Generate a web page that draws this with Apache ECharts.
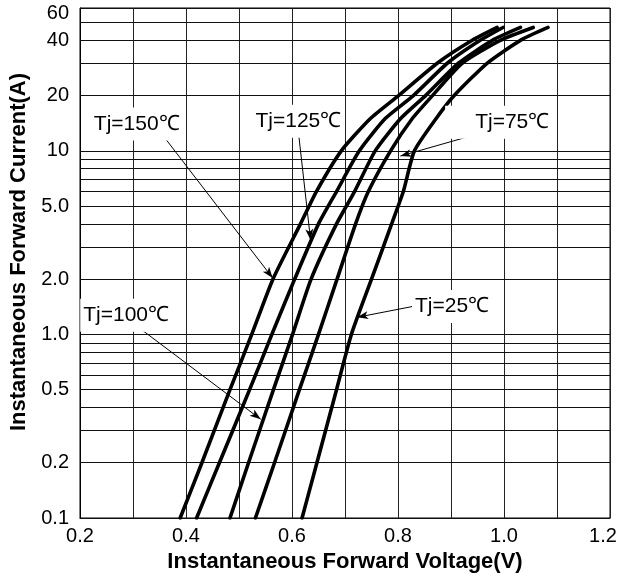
<!DOCTYPE html>
<html><head><meta charset="utf-8">
<script src="https://cdn.jsdelivr.net/npm/echarts@6/dist/echarts.min.js"></script>
<style>html,body{margin:0;padding:0;background:#fff}#c{width:620px;height:581px}</style>
</head><body><div id="c"></div>
<script>
// ---- data ----
const currents = [0.1, 0.2, 0.5, 1, 2, 4, 6, 10, 15, 20, 30, 40, 47];
const vTj150 = [0.389, 0.430, 0.483, 0.524, 0.564, 0.616, 0.646, 0.693, 0.748, 0.801, 0.874, 0.940, 0.987];
const vTj125 = [0.420, 0.463, 0.520, 0.562, 0.605, 0.650, 0.684, 0.727, 0.776, 0.829, 0.893, 0.955, 0.998];
const vTj100 = [0.483, 0.518, 0.565, 0.601, 0.636, 0.684, 0.718, 0.757, 0.805, 0.852, 0.914, 0.978, 1.031];
const vTj75  = [0.531, 0.567, 0.614, 0.650, 0.685, 0.720, 0.744, 0.786, 0.827, 0.865, 0.921, 0.993, 1.055];
const vTj25  = [0.619, 0.647, 0.684, 0.712, 0.750, 0.788, 0.810, 0.831, 0.872, 0.906, 0.968, 1.031, 1.083];
const seriesNames = ['Tj=150℃', 'Tj=125℃', 'Tj=100℃', 'Tj=75℃', 'Tj=25℃'];
const seriesVoltages = [vTj150, vTj125, vTj100, vTj75, vTj25];

const xMin = 0.2, xMax = 1.2, xStep = 0.1;
const yMin = 0.1, yMax = 60;
const yGridValues = [0.1, 0.2, 0.3, 0.4, 0.5, 0.6, 0.7, 0.8, 0.9, 1, 2, 3, 4, 5, 6, 7, 8, 9, 10, 20, 30, 40, 50, 60];
const yTickLabels = [0.1, 0.2, 0.5, 1, 2, 5, 10, 20, 40, 60];

// annotation labels (value coords) and their leader paths (last point = arrow tip)
const annoText = ['Tj=150℃', 'Tj=125℃', 'Tj=100℃', 'Tj=75℃', 'Tj=25℃'];
const annoTextAt = [[0.307, 14.0], [0.612, 14.5], [0.287, 1.27], [0.990, 14.3], [0.902, 1.42]];
const annoPaths = [
  [[0.337, 12.5], [0.353, 12.5], [0.5635, 2.03]],
  [[0.596, 12.7], [0.612, 12.7], [0.635, 3.27]],
  [[0.296, 1.10], [0.309, 1.10], [0.541, 0.345]],
  [[0.965, 12.7], [0.8045, 9.37]],
  [[0.833, 1.43], [0.723, 1.24]]
];

// ---- chart ----
const FONT = "'Liberation Sans', Arial, sans-serif";
const chart = echarts.init(document.getElementById('c'), null, {renderer: 'canvas'});

const fmtY = v => (v < 10 ? v.toFixed(1) : String(v));

const gridLineData = yGridValues.map(v => {
  const labeled = yTickLabels.indexOf(v) >= 0;
  const txt = fmtY(v);
  return {yAxis: v, label: {show: labeled, formatter: v === yMax ? '{t|' + txt + '}' : txt}};
});

const curveSeries = seriesNames.map((name, k) => ({
  name: name,
  type: 'line',
  data: currents.map((c, i) => [seriesVoltages[k][i], c]),
  smooth: 0.2,
  symbol: 'none',
  z: 3,
  lineStyle: {color: '#000', width: 3.6, cap: 'round', join: 'round'},
  silent: true
}));

const leaderData = [];
annoPaths.forEach(path => {
  for (let i = 0; i < path.length - 1; i++) {
    const last = i === path.length - 2;
    leaderData.push([
      {coord: path[i], symbol: 'none'},
      {coord: path[i + 1], symbol: last ? 'arrow' : 'none', symbolSize: last ? [6, 11] : 0}
    ]);
  }
});

const labelItems = annoText.map((t, i) => {
  const item = {name: t, value: annoTextAt[i]};
  if (i === 3) item.label = {padding: [6, 3, 6, 30]};
  return item;
});

const option = {
  animation: false,
  backgroundColor: '#fff',
  grid: {left: 79, right: 10, top: 8, bottom: 63, show: true, borderColor: '#000', borderWidth: 1, backgroundColor: 'transparent'},
  xAxis: {
    type: 'value', min: xMin, max: xMax, interval: xStep,
    name: 'Instantaneous Forward Voltage(V)', nameLocation: 'middle', nameGap: 31,
    nameTextStyle: {fontFamily: FONT, fontWeight: 'bold', fontSize: 22, color: '#000'},
    axisLine: {show: true, lineStyle: {color: '#000', width: 1}},
    axisTick: {show: false},
    splitLine: {show: true, lineStyle: {color: '#222', width: 1}},
    axisLabel: {
      margin: 8, fontFamily: FONT, fontSize: 20, color: '#000',
      formatter: v => {
        const k = Math.round(v * 10);
        if (k % 2 !== 0) return '';
        const s = (k / 10).toFixed(1);
        return k === Math.round(xMax * 10) ? '{r|' + s + '}' : s;
      },
      rich: {r: {fontFamily: FONT, fontSize: 20, color: '#000', padding: [0, 14, 0, 0]}}
    }
  },
  yAxis: {
    type: 'log', logBase: 10, min: yMin, max: yMax,
    name: 'Instantaneous Forward Current(A)', nameLocation: 'middle', nameGap: 50,
    nameTextStyle: {fontFamily: FONT, fontWeight: 'bold', fontSize: 22, color: '#000', padding: [0, 0, 0, 22]},
    axisLine: {show: true, lineStyle: {color: '#000', width: 1}},
    axisTick: {show: false},
    axisLabel: {show: false},
    splitLine: {show: false}
  },
  series: [
    {
      name: 'grid', type: 'line', data: [], silent: true, z: 1,
      markLine: {
        silent: true, z: 1, symbol: ['none', 'none'], animation: false,
        lineStyle: {color: '#111', width: 1, type: 'solid'},
        label: {position: 'start', distance: 11, fontFamily: FONT, fontSize: 20, color: '#000',
                rich: {t: {fontFamily: FONT, fontSize: 20, color: '#000', padding: [10, 0, 0, 0]}}},
        emphasis: {disabled: true},
        data: gridLineData
      }
    },
    ...curveSeries,
    {
      name: 'annotations', type: 'scatter', data: labelItems, symbol: 'rect', symbolSize: 2, z: 6, silent: true,
      itemStyle: {color: 'rgba(0,0,0,0)'},
      label: {show: true, position: 'inside', formatter: '{b}', fontFamily: FONT, fontSize: 21, color: '#000',
              opacity: 1, textBorderWidth: 0, textShadowBlur: 0,
              backgroundColor: '#fff', padding: [6, 3]},
      emphasis: {disabled: true},
      markLine: {
        silent: true, z: 5, animation: false,
        lineStyle: {color: '#000', width: 1, type: 'solid'},
        label: {show: false},
        emphasis: {disabled: true},
        data: leaderData
      }
    }
  ]
};
chart.setOption(option);
</script>
</body></html>
